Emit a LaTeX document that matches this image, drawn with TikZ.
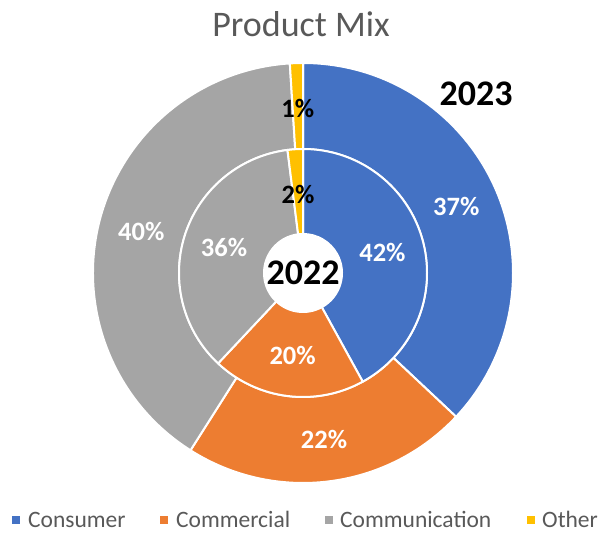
\documentclass[tikz,border=0pt]{standalone}
\usepackage{fontspec}
\setmainfont{Carlito}
\usetikzlibrary{calc}
\definecolor{cBlue}{HTML}{4472C4}
\definecolor{cOrange}{HTML}{ED7D31}
\definecolor{cGray}{HTML}{A5A5A5}
\definecolor{cYellow}{HTML}{FFC000}
\definecolor{cText}{HTML}{595959}
\newcommand\ringsector[5]{%
  \filldraw[fill=#1, draw=white, line width=2pt, line join=round]
    ($(C)+(#4:#3)$) arc[start angle=#4, end angle=#5, radius=#3]
    -- ($(C)+(#5:#2)$) arc[start angle=#5, end angle=#4, radius=#2] -- cycle;}
\tikzset{
  pct/.style={font=\fontsize{26.5}{30}\selectfont\bfseries, text=white, inner sep=0pt},
  pctdark/.style={pct, text=black},
  yearlbl/.style={font=\fontsize{36}{40}\selectfont\bfseries, text=black, inner sep=0pt},
  legsq/.style={minimum size=8pt, inner sep=0pt, draw=none},
  legtxt/.style={font=\fontsize{23.5}{26}\selectfont, text=cText, anchor=base west, inner sep=0pt},
}
\begin{document}
\begin{tikzpicture}[x=1pt,y=1pt]
\useasboundingbox (0,0) rectangle (603,534);
\coordinate (C) at (303,261);
% outer ring (2023)
\ringsector{cBlue}{124}{210}{90}{-43.2}
\ringsector{cOrange}{124}{210}{-43.2}{-122.4}
\ringsector{cGray}{124}{210}{-122.4}{-266.4}
\ringsector{cYellow}{124}{210}{-266.4}{-270}
% inner ring (2022)
\ringsector{cBlue}{39}{124}{90}{-61.2}
\ringsector{cOrange}{39}{124}{-61.2}{-133.2}
\ringsector{cGray}{39}{124}{-133.2}{-262.8}
\ringsector{cYellow}{39}{124}{-262.8}{-270}
% labels outer
\node[pct] (o1) at ($(C)+(23.4:167)$) {37\%};
\node[pct] (o2) at ($(C)+(-82.8:168)$) {22\%};
\node[pct] (o3) at ($(C)+(-194.4:167)$) {40\%};
\node[pctdark] (o4) at ($(C)+(-268.2:165)$) {1\%};
% labels inner
\node[pct] (i1) at ($(C)+(14.4:82)$) {42\%};
\node[pct] (i2) at ($(C)+(-97.2:83)$) {20\%};
\node[pct] (i3) at ($(C)+(-198:83)$) {36\%};
\node[pctdark] (i4) at ($(C)+(-266.4:79)$) {2\%};
% year labels
\node[yearlbl] (y22) at (C) {2022};
\node[yearlbl] (y23) at (476,440) {2023};
% title
\node[font=\fontsize{36}{40}\selectfont, text=cText, anchor=base, inner sep=0pt] (title) at (301,497) {Product Mix};
% legend
\node[legsq, fill=cBlue] (s1) at (16,13.5) {};
\node[legtxt] (t1) at (28,6) {Consumer};
\node[legsq, fill=cOrange] (s2) at (164,13.5) {};
\node[legtxt] (t2) at (176,6) {Commercial};
\node[legsq, fill=cGray] (s3) at (329,13.5) {};
\node[legtxt] (t3) at (340,6) {Communication};
\node[legsq, fill=cYellow] (s4) at (531,13.5) {};
\node[legtxt] (t4) at (542,6) {Other};
\end{tikzpicture}
\end{document}
